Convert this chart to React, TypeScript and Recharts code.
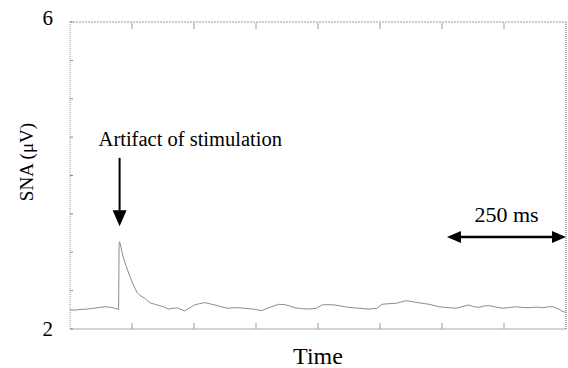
import React from 'react';
import { LineChart, Line, XAxis, YAxis, ReferenceLine, Label } from 'recharts';

// sweep time (ms) and SNA amplitude (uV)
const TIME = [
  0, 10, 20, 35, 48, 62, 70, 76, 84, 90, 96, 98, 99, 100, 103, 106, 111, 116, 121, 126,
  131, 136, 143, 150, 156, 162, 172, 183, 190, 198, 208, 217, 224, 231, 240, 251, 261, 271, 281, 292,
  305, 318, 332, 346, 359, 372, 386, 401, 411, 421, 433, 443, 453, 467, 481, 497, 508, 520, 534, 554,
  568, 582, 602, 619, 629, 643, 657, 667, 677, 687, 697, 710, 724, 744, 760, 778, 790, 804, 814, 824,
  835, 845, 860, 873, 886, 899, 912, 925, 940, 954, 965, 974, 985, 994, 1000,
];
const SNA = [
  2.25, 2.245, 2.255, 2.26, 2.27, 2.283, 2.29, 2.287, 2.28, 2.27, 2.26, 2.25, 3.1, 3.137, 3.06, 2.964, 2.86, 2.769, 2.68, 2.599,
  2.53, 2.469, 2.43, 2.404, 2.37, 2.339, 2.32, 2.3, 2.285, 2.26, 2.27, 2.274, 2.255, 2.235, 2.27, 2.313, 2.33, 2.343, 2.33, 2.313,
  2.29, 2.27, 2.278, 2.274, 2.265, 2.257, 2.238, 2.278, 2.3, 2.322, 2.317, 2.3, 2.278, 2.265, 2.26, 2.27, 2.313, 2.318, 2.313, 2.29,
  2.278, 2.27, 2.26, 2.27, 2.322, 2.33, 2.335, 2.35, 2.369, 2.36, 2.348, 2.335, 2.322, 2.29, 2.28, 2.27, 2.29, 2.313, 2.29, 2.283,
  2.3, 2.304, 2.285, 2.27, 2.28, 2.29, 2.28, 2.278, 2.285, 2.278, 2.29, 2.29, 2.26, 2.225, 2.22,
];
const X_TICKS = [0, 125, 250, 375, 500, 625, 750, 875, 1000];
const Y_TICKS = [2, 2.5, 3, 3.5, 4, 4.5, 5, 5.5, 6];
const Y_LABELED = [2, 6];

const data = TIME.map((t, i) => ({ t, v: SNA[i] }));

const FONT = '"Liberation Serif", "DejaVu Serif", serif';

const LeftTick = (props: any) => {
  const { x, y, payload } = props;
  const labeled = Y_LABELED.includes(payload.value);
  return (
    <g>
      <line x1={x} y1={y} x2={x + 3} y2={y} stroke="#888" />
      {labeled && (
        <text x={x - 17} y={payload.value === 6 ? y - 4 : y} textAnchor="end" dominantBaseline="central"
          fontSize={21} fontFamily={FONT} fill="#000">
          {payload.value}
        </text>
      )}
    </g>
  );
};

const RightTick = (props: any) => {
  const { x, y } = props;
  return <line x1={x - 4} y1={y} x2={x - 1} y2={y} stroke="#777" />;
};

const BottomTick = (props: any) => {
  const { x, y, payload } = props;
  if (payload.value === 0 || payload.value === 1000) return null;
  return <line x1={x} y1={y} x2={x} y2={y - 6} stroke="#999" />;
};

const TopTick = (props: any) => {
  const { x, y, payload } = props;
  if (payload.value === 0 || payload.value === 1000) return null;
  return <line x1={x} y1={y + 1} x2={x} y2={y + 7} stroke="#999" />;
};

const DownArrow = (props: any) => {
  const { x1, y1, y2 } = props;
  return (
    <g>
      <text x={x1 - 21} y={y1 - 12} fontSize={20.5} fontFamily={FONT} fill="#000">Artifact of stimulation</text>
      <line x1={x1} y1={y1} x2={x1} y2={y2 - 14} stroke="#000" strokeWidth={2} />
      <polygon points={`${x1 - 7},${y2 - 16} ${x1 + 7},${y2 - 16} ${x1},${y2}`} fill="#000" />
    </g>
  );
};

const SpanArrow = (props: any) => {
  const { x1, y1, x2 } = props;
  const mid = (x1 + x2) / 2;
  return (
    <g>
      <text x={mid} y={y1 - 15} textAnchor="middle" fontSize={22} fontFamily={FONT} fill="#000">250 ms</text>
      <line x1={x1 + 12} y1={y1} x2={x2 - 12} y2={y1} stroke="#000" strokeWidth={2.5} />
      <polygon points={`${x1},${y1} ${x1 + 14},${y1 - 6} ${x1 + 14},${y1 + 6}`} fill="#000" />
      <polygon points={`${x2},${y1} ${x2 - 14},${y1 - 6} ${x2 - 14},${y1 + 6}`} fill="#000" />
    </g>
  );
};

export default function App() {
  return (
    <div style={{ position: 'absolute', left: 0, top: 0, width: 568, height: 368, background: '#fff' }}>
      <LineChart width={568} height={368} data={data} margin={{ top: 21, right: 1, bottom: 0, left: 0 }}>
        <XAxis
          dataKey="t"
          type="number"
          domain={[0, 1000]}
          ticks={X_TICKS}
          height={39}
          tickSize={0}
          tickMargin={0}
          tickLine={false}
          tick={<BottomTick />}
          axisLine={{ stroke: '#aaa' }}
        >
          <Label value="Time" position="insideBottom" offset={4} style={{ fontSize: 24, fontFamily: FONT, fill: '#000' }} />
        </XAxis>
        <XAxis
          xAxisId="top"
          orientation="top"
          dataKey="t"
          type="number"
          domain={[0, 1000]}
          ticks={X_TICKS}
          height={1}
          tickSize={0}
          tickMargin={0}
          tickLine={false}
          tick={<TopTick />}
          axisLine={{ stroke: '#999', strokeDasharray: '2 1' }}
        />
        <YAxis
          type="number"
          domain={[2, 6]}
          ticks={Y_TICKS}
          width={70}
          tickSize={0}
          tickMargin={0}
          tickLine={false}
          tick={<LeftTick />}
          axisLine={{ stroke: '#999', strokeDasharray: '1 1' }}
        >
          <Label
            content={() => (
              <text x={0} y={0} transform="translate(26,162) rotate(-90)" textAnchor="middle" dominantBaseline="central"
                fontSize={19} fontFamily={FONT} fill="#000">
                SNA (μV)
              </text>
            )}
          />
        </YAxis>
        <YAxis
          yAxisId="right"
          orientation="right"
          type="number"
          domain={[2, 6]}
          ticks={Y_TICKS}
          width={1}
          tickSize={0}
          tickMargin={0}
          tickLine={false}
          tick={<RightTick />}
          axisLine={{ stroke: '#555', strokeDasharray: '1 1' }}
        />
        <Line
          type="linear"
          dataKey="v"
          stroke="#8c8c8c"
          strokeWidth={1}
          dot={false}
          isAnimationActive={false}
        />
        <ReferenceLine segment={[{ x: 100, y: 4.23 }, { x: 100, y: 3.34 }]} shape={<DownArrow />} />
        <ReferenceLine segment={[{ x: 760, y: 3.2 }, { x: 1000, y: 3.2 }]} shape={<SpanArrow />} />
      </LineChart>
    </div>
  );
}
